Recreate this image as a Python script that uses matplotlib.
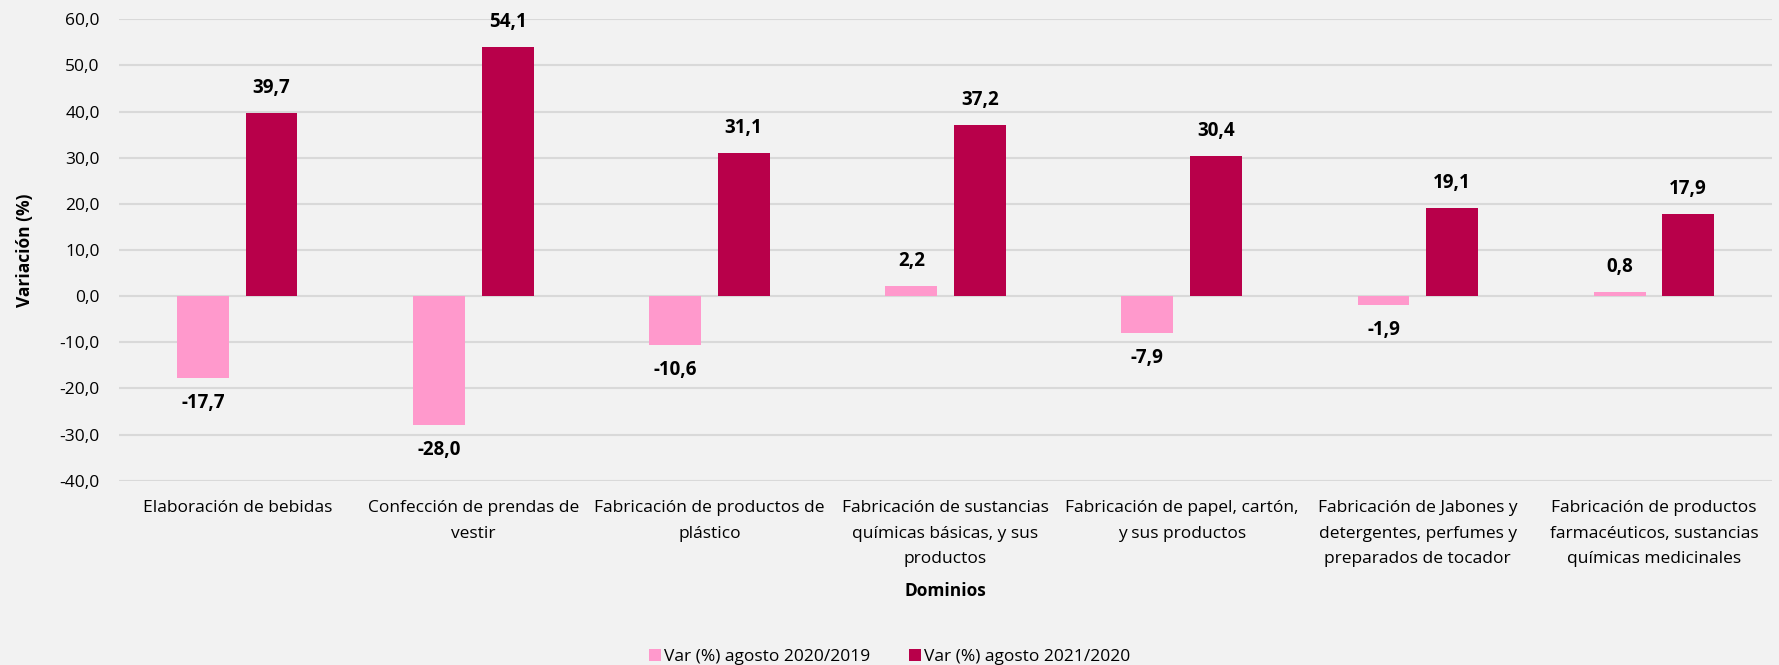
import matplotlib
matplotlib.use("Agg")
import matplotlib.pyplot as plt
import numpy as np

categories = [
    "Elaboración de bebidas",
    "Confección de prendas de\nvestir",
    "Fabricación de productos de\nplástico",
    "Fabricación de sustancias\nquímicas básicas, y sus\nproductos",
    "Fabricación de papel, cartón,\ny sus productos",
    "Fabricación de Jabones y\ndetergentes, perfumes y\npreparados de tocador",
    "Fabricación de productos\nfarmacéuticos, sustancias\nquímicas medicinales",
]
var_2020_2019 = [-17.7, -28.0, -10.6, 2.2, -7.9, -1.9, 0.8]
var_2021_2020 = [39.7, 54.1, 31.1, 37.2, 30.4, 19.1, 17.9]
series_names = ["Var (%) agosto 2020/2019", "Var (%) agosto 2021/2020"]
yticks = [-40, -30, -20, -10, 0, 10, 20, 30, 40, 50, 60]

plt.rcParams['font.family'] = ['Open Sans', 'DejaVu Sans']
bg = "#F2F2F2"
c1 = "#FF99CC"
c2 = "#B8004A"

fig = plt.figure(figsize=(17.79, 6.65), dpi=100, facecolor=bg)
ax = fig.add_axes([0.067, 0.277, 0.929, 0.694])
ax.set_facecolor(bg)

x = np.arange(len(categories))
w = 0.22
off = 0.145
b1 = ax.bar(x - off, var_2020_2019, w, color=c1, label=series_names[0], zorder=3)
b2 = ax.bar(x + off, var_2021_2020, w, color=c2, label=series_names[1], zorder=3)

def fmt(v):
    return f"{v:.1f}".replace(".", ",")

for bars, vals in ((b1, var_2020_2019), (b2, var_2021_2020)):
    for rect, v in zip(bars, vals):
        cx = rect.get_x() + rect.get_width() / 2
        dy = 18 if v >= 0 else -18
        ax.annotate(fmt(v), (cx, v), xytext=(0, dy), textcoords="offset points",
                    ha="center", va="center", fontsize=13.5, fontweight="bold")

ax.set_ylim(-40, 60)
ax.set_xlim(-0.5, len(categories) - 0.5)
ax.set_yticks(yticks)
ax.set_yticklabels([fmt(t) for t in yticks], fontsize=12.5)
ax.set_xticks(x)
ax.set_xticklabels(categories, fontsize=12.5, linespacing=1.78)
ax.tick_params(axis="y", length=0, pad=14)
ax.tick_params(axis="x", length=0, pad=14)
ax.grid(axis="y", color="#D9D9D9", linewidth=1.5, zorder=0)
for s in ax.spines.values():
    s.set_visible(False)

ax.set_ylabel("Variación (%)", fontsize=12.5, fontweight="bold", labelpad=18)
ax.set_xlabel("Dominios", fontsize=12.5, fontweight="bold", labelpad=11)

leg = fig.legend(handles=[b1, b2], labels=series_names, loc="lower center",
                 bbox_to_anchor=(0.5, -0.024), ncol=2, frameon=False, fontsize=12.5,
                 handlelength=0.7, handleheight=0.7, handletextpad=0.2, columnspacing=2.2)

fig.savefig("out.png", dpi=100, facecolor=bg)
